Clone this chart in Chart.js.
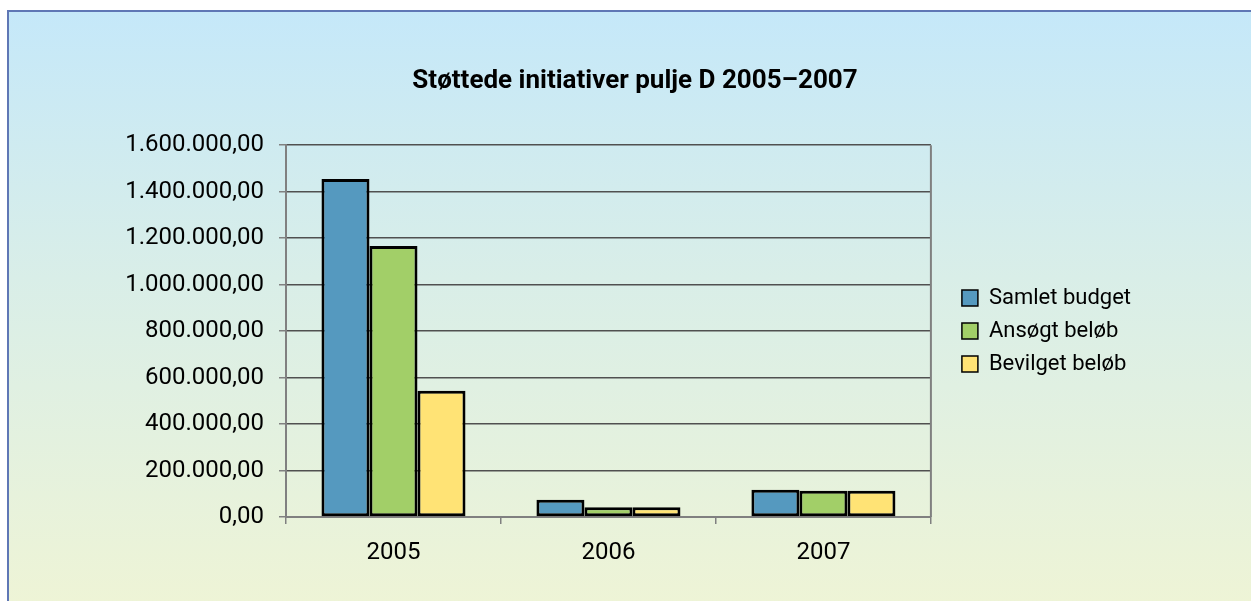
<!DOCTYPE html>
<html>
<head>
<meta charset="utf-8">
<script src="https://cdn.jsdelivr.net/npm/chart.js"></script>
<style>
  html, body { margin: 0; padding: 0; background: #fff; width: 1251px; height: 601px; overflow: hidden; }
  #frame {
    position: absolute; left: 7px; top: 10px; width: 1244px; height: 591px;
    border-left: 2px solid #5f77b5; border-top: 2px solid #5f77b5;
    background: linear-gradient(to bottom, #c5e8f9 0%, #d9eee8 45%, #eef4d6 100%);
  }
  #wrap { position: absolute; left: 0; top: 0; width: 1242px; height: 589px; }
</style>
</head>
<body>
<div id="frame"><div id="wrap"><canvas id="chart"></canvas></div></div>
<script>
const years = ["2005", "2006", "2007"];
const samletBudget = [1455000, 74000, 117000];
const ansoegtBeloeb = [1166000, 42000, 113000];
const bevilgetBeloeb = [543000, 42000, 113000];

const seriesNames = ["Samlet budget", "Ansøgt beløb", "Bevilget beløb"];
const seriesColors = ["#5599bf", "#a2cf68", "#ffe375"];

const FONT = "Roboto";

function fmtNumber(v) {
  const int = Math.round(v).toString().replace(/\B(?=(\d{3})+(?!\d))/g, ".");
  return int + ",00";
}

// nudge title/legend into place and draw the right border of the plot area
const plotFrame = {
  id: 'plotFrame',
  afterLayout(c) {
    const lg = c.legend;
    if (lg) { lg.left += 20; lg.right += 20; }
    const tt = c.titleBlock;
    if (tt) { tt.left += 60; tt.right += 60; }
  },
  beforeDatasetsDraw(c) {
    const { ctx, chartArea: a } = c;
    ctx.save();
    ctx.strokeStyle = "#808080";
    ctx.lineWidth = 2;
    ctx.beginPath();
    ctx.moveTo(a.right, a.top);
    ctx.lineTo(a.right, a.bottom);
    ctx.stroke();
    ctx.restore();
  }
};

const chart = new Chart(document.getElementById("chart").getContext("2d"), {
  type: 'bar',
  data: {
    labels: years,
    datasets: [samletBudget, ansoegtBeloeb, bevilgetBeloeb].map((d, i) => ({
      label: seriesNames[i],
      data: d,
      backgroundColor: seriesColors[i],
      borderColor: "#000",
      borderWidth: 3,
      borderSkipped: false,
      categoryPercentage: 0.67,
      barPercentage: 1.0
    }))
  },
  plugins: [plotFrame],
  options: {
    responsive: true,
    maintainAspectRatio: false,
    animation: false,
    layout: { padding: { left: 20, right: 130, top: 0, bottom: 0 } },
    plugins: {
      title: {
        display: true,
        text: "Støttede initiativer pulje D 2005–2007",
        color: "#000",
        font: { family: FONT, size: 26, weight: 'bold' },
        padding: { top: 54, bottom: 48 }
      },
      legend: {
        position: 'right',
        fullSize: false,
        labels: {
          color: "#000",
          font: { family: FONT, size: 22 },
          boxWidth: 16,
          boxHeight: 16,
          padding: 11,
          generateLabels: (c) => c.data.datasets.map((ds, i) => ({
            text: ds.label,
            fillStyle: ds.backgroundColor,
            strokeStyle: "#000",
            lineWidth: 1.5,
            datasetIndex: i
          }))
        }
      },
      tooltip: { enabled: false }
    },
    scales: {
      x: {
        grid: { display: true, drawOnChartArea: false, drawTicks: true, tickLength: 7, color: "#808080", lineWidth: 1.5, offset: true },
        border: { display: true, color: "#808080", width: 2 },
        ticks: { color: "#000", font: { family: FONT, size: 24 }, padding: 15 },
        afterFit: (s) => { s.height = 84; }
      },
      y: {
        min: 0,
        max: 1600000,
        ticks: {
          stepSize: 200000,
          color: "#000",
          font: { family: FONT, size: 24 },
          padding: 15,
          callback: (v) => fmtNumber(v)
        },
        grid: { color: "#505050", lineWidth: 1.5, tickLength: 7, tickColor: "#808080" },
        border: { display: true, color: "#808080", width: 2 },
        afterFit: (s) => { s.width = 257; }
      }
    }
  }
});
</script>
</body>
</html>
